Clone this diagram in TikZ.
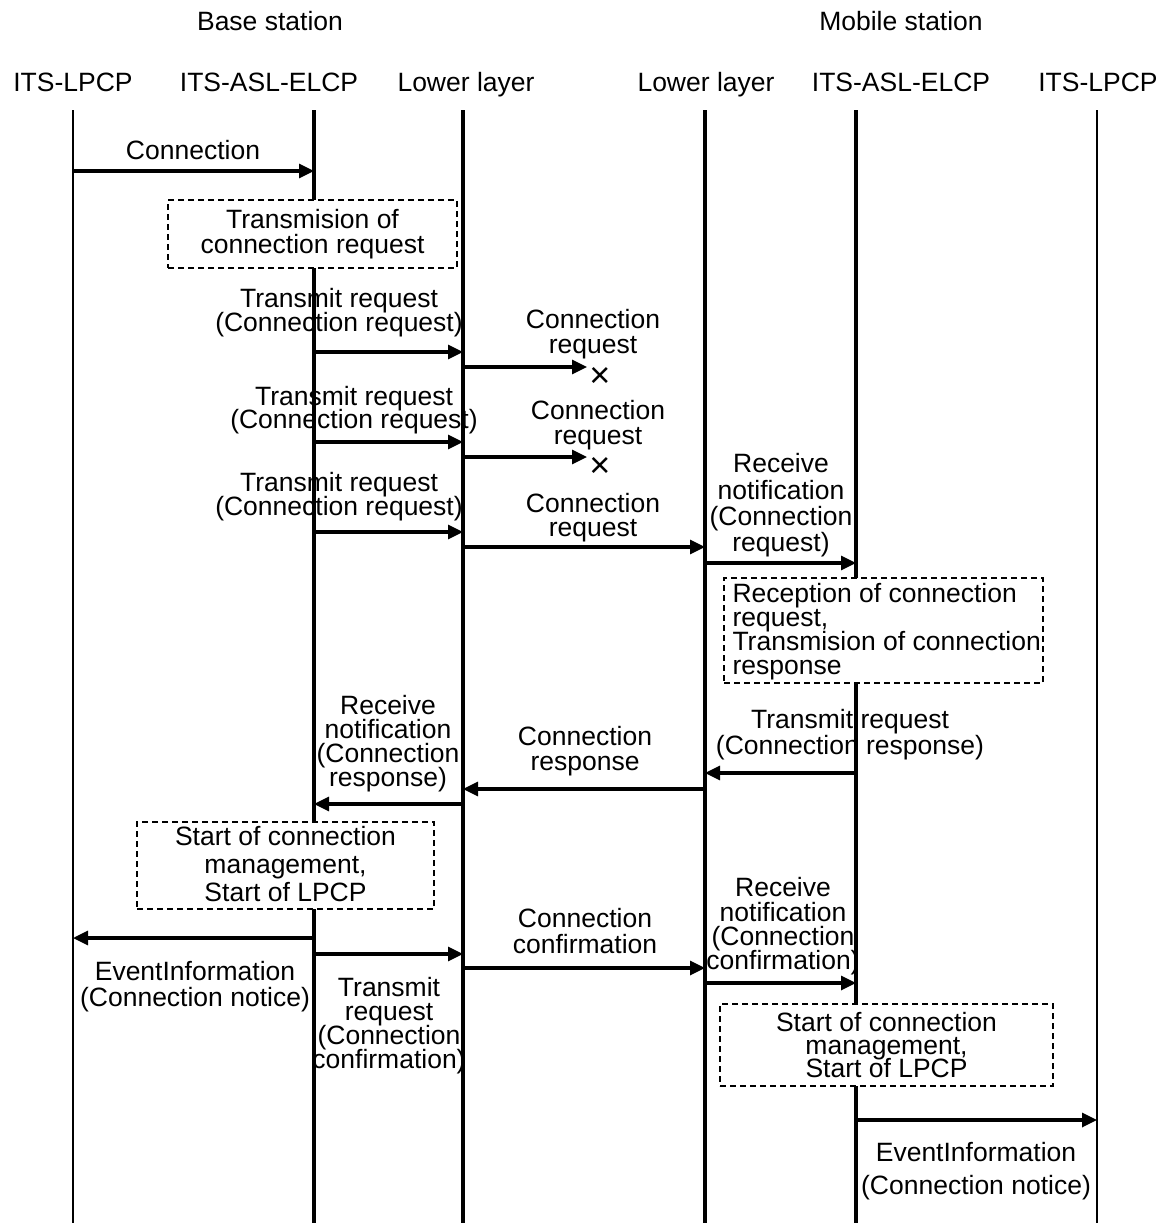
\documentclass[tikz,border=0pt]{standalone}
\usepackage{fontspec}
\setmainfont{Liberation Sans}
\usetikzlibrary{arrows.meta}
\newcommand\fsz[1]{\fontsize{26.5}{#1}\selectfont\lineskiplimit=-100pt\lineskip=0pt}
\tikzset{
  lbl/.style={font=\fsz{26}, align=center, inner sep=0pt},
  hdr/.style={font=\fsz{26}, inner sep=0pt, anchor=base},
  life/.style={line width=3.5pt},
  lifeout/.style={line width=2.6pt},
  msg/.style={line width=3.2pt, -{Triangle[length=15pt,width=14pt]}},
  dbox/.style={draw, line width=1.4pt, dash pattern=on 6pt off 4pt, fill=white, inner sep=0pt},
  xmark/.style={font=\fontsize{36}{36}\selectfont, inner sep=0pt},
}
\begin{document}
\begin{tikzpicture}[x=1pt,y=-1pt]
\useasboundingbox (0,0) rectangle (1172,1223);
% headers
\node[hdr] (hbs) at (270,31) {Base station};
\node[hdr] (hms) at (901,31) {Mobile station};
\node[hdr] (h1) at (73,91) {ITS-LPCP};
\node[hdr] (h2) at (269,91) {ITS-ASL-ELCP};
\node[hdr] (h3) at (466,91) {Lower layer};
\node[hdr] (h4) at (706,91) {Lower layer};
\node[hdr] (h5) at (901,91) {ITS-ASL-ELCP};
\node[hdr] (h6) at (1098,91) {ITS-LPCP};
% lifelines
\coordinate (l1) at (73,110);  \coordinate (l1b) at (73,1223);
\coordinate (l2) at (314,110); \coordinate (l2b) at (314,1223);
\coordinate (l3) at (463,110); \coordinate (l3b) at (463,1223);
\coordinate (l4) at (705,110); \coordinate (l4b) at (705,1223);
\coordinate (l5) at (856,110); \coordinate (l5b) at (856,1223);
\coordinate (l6) at (1097,110); \coordinate (l6b) at (1097,1223);
\draw[lifeout] (l1) -- (l1b);
\draw[life] (l2) -- (l2b);
\draw[life] (l3) -- (l3b);
\draw[life] (l4) -- (l4b);
\draw[life] (l5) -- (l5b);
\draw[lifeout] (l6) -- (l6b);
% Connection
\draw[msg] (l1 |- 0,171) -- (l2 |- 0,171);
\node[lbl] (tcon) at (193,150) {Connection};
% box 1
\node[dbox, minimum width=289pt, minimum height=68pt] (b1) at (312.5,234) {};
\node[lbl, font=\fsz{25}] (tb1) at (312.5,234) {Transmision of\\connection request};
% three transmit requests
\node[lbl, font=\fsz{24}] (tr1) at (339,313) {Transmit request\\(Connection request)};
\draw[msg] (l2 |- 0,352) -- (l3 |- 0,352);
\coordinate (x1) at (587,367);
\draw[msg] (l3 |- 0,367) -- (x1);
\node[xmark] (xm1) at (600,377) {×};
\node[lbl, font=\fsz{25}] (cr1) at (593,334) {Connection\\request};

\node[lbl, font=\fsz{23}] (tr2) at (354,410.5) {Transmit request\\(Connection request)};
\draw[msg] (l2 |- 0,442) -- (l3 |- 0,442);
\coordinate (x2) at (587,457);
\draw[msg] (l3 |- 0,457) -- (x2);
\node[xmark] (xm2) at (600,467) {×};
\node[lbl, font=\fsz{25}] (cr2) at (598,425.5) {Connection\\request};

\node[lbl, font=\fsz{24}] (tr3) at (339,497) {Transmit request\\(Connection request)};
\draw[msg] (l2 |- 0,532) -- (l3 |- 0,532);
\draw[msg] (l3 |- 0,547) -- (l4 |- 0,547);
\node[lbl, font=\fsz{24}] (cr3) at (593,518) {Connection\\request};

\node[lbl, font=\fsz{26.3}] (rn1) at (781,505.5) {Receive\\notification\\(Connection\\request)};
\draw[msg] (l4 |- 0,563) -- (l5 |- 0,563);
% box 2
\node[dbox, minimum width=319pt, minimum height=105pt] (b2) at (883.5,630.5) {};
\node[lbl, font=\fsz{24}, align=left, anchor=west] (tb2) at ([xshift=9pt,yshift=-1pt]b2.west) {Reception of connection\\request,\\Transmision of connection\\response};
% response
\node[lbl] (trr) at (850,735) {Transmit request\\(Connection response)};
\draw[msg] (l5 |- 0,773) -- (l4 |- 0,773);
\node[lbl, font=\fsz{25}] (crr) at (585,751.5) {Connection\\response};
\draw[msg] (l4 |- 0,789) -- (l3 |- 0,789);
\node[lbl, font=\fsz{24}] (rn2) at (388,744) {Receive\\notification\\(Connection\\response)};
\draw[msg] (l3 |- 0,804) -- (l2 |- 0,804);
% box 3
\node[dbox, minimum width=297pt, minimum height=87pt] (b3) at (285.5,865.5) {};
\node[lbl, font=\fsz{28}] (tb3) at (285.5,864) {Start of connection\\management,\\Start of LPCP};
% event info base
\draw[msg] (l2 |- 0,938) -- (l1 |- 0,938);
\node[lbl] (ei1) at (195,987) {EventInformation\\(Connection notice)};
% confirmation
\draw[msg] (l2 |- 0,954) -- (l3 |- 0,954);
\node[lbl, font=\fsz{24}] (trc) at (389,1026) {Transmit\\request\\(Connection\\confirmation)};
\node[lbl] (crc) at (585,931) {Connection\\confirmation};
\draw[msg] (l3 |- 0,968) -- (l4 |- 0,968);
\node[lbl, font=\fsz{24.3}] (rn3) at (783,926.5) {Receive\\notification\\(Connection\\confirmation)};
\draw[msg] (l4 |- 0,983) -- (l5 |- 0,983);
% box 4
\node[dbox, minimum width=333pt, minimum height=82pt] (b4) at (886.5,1045) {};
\node[lbl, font=\fsz{23}] (tb4) at (886.5,1045) {Start of connection\\management,\\Start of LPCP};
% event info mobile
\draw[msg] (l5 |- 0,1120) -- (l6 |- 0,1120);
\node[lbl, font=\fsz{33}] (ei2) at (976,1171.5) {EventInformation\\(Connection notice)};
\end{tikzpicture}
\end{document}
